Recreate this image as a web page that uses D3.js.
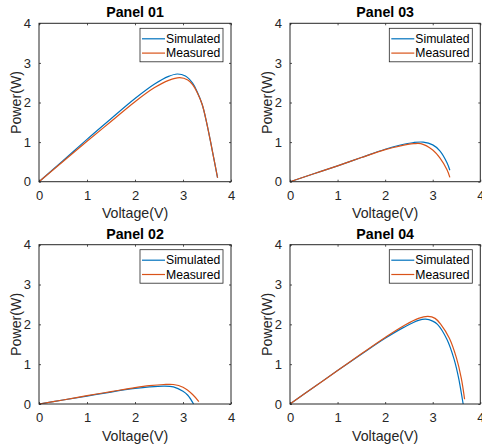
<!DOCTYPE html>
<html>
<head>
<meta charset="utf-8">
<script src="https://cdn.jsdelivr.net/npm/d3@7"></script>
<style>
  html, body { margin: 0; padding: 0; background: #fff; }
  svg { display: block; font-family: "Liberation Sans", Arial, sans-serif; }
</style>
</head>
<body>
<svg id="chart" width="482" height="448"></svg>
<script>
// tick values and series names
var xTicks = [0, 1, 2, 3, 4];
var yTicks = [0, 1, 2, 3, 4];
var seriesNames = ["Simulated", "Measured"];
var panelTitles = ["Panel 01", "Panel 03", "Panel 02", "Panel 04"];

// Panel 01
var p01SimV  = [0, 0.5, 1.0, 1.5, 2.0, 2.4, 2.7, 2.88, 3.05, 3.2, 3.3, 3.4, 3.5, 3.6, 3.72];
var p01SimP  = [0, 0.53, 1.07, 1.59, 2.10, 2.46, 2.66, 2.72, 2.67, 2.49, 2.26, 1.95, 1.45, 0.85, 0.1];
var p01MeasV = [0, 0.5, 1.0, 1.5, 2.0, 2.4, 2.7, 2.93, 3.1, 3.2, 3.3, 3.4, 3.5, 3.6, 3.72];
var p01MeasP = [0, 0.51, 1.02, 1.52, 2.02, 2.37, 2.56, 2.63, 2.57, 2.45, 2.24, 1.95, 1.45, 0.85, 0.1];

// Panel 03
var p03SimV  = [0, 0.5, 1.0, 1.5, 2.0, 2.3, 2.6, 2.8, 3.0, 3.15, 3.3, 3.36];
var p03SimP  = [0, 0.2, 0.40, 0.61, 0.82, 0.92, 0.99, 1.0, 0.93, 0.78, 0.48, 0.29];
var p03MeasV = [0, 0.5, 1.0, 1.5, 2.0, 2.3, 2.6, 2.75, 3.0, 3.15, 3.3, 3.36];
var p03MeasP = [0, 0.2, 0.40, 0.61, 0.81, 0.90, 0.96, 0.96, 0.80, 0.60, 0.30, 0.11];

// Panel 02
var p02SimV  = [0, 0.5, 1.0, 1.5, 2.0, 2.3, 2.6, 2.8, 3.0, 3.1, 3.22];
var p02SimP  = [0, 0.1, 0.2, 0.3, 0.39, 0.43, 0.45, 0.43, 0.32, 0.22, 0.0];
var p02MeasV = [0, 0.5, 1.0, 1.5, 2.0, 2.3, 2.6, 2.8, 3.0, 3.2, 3.33];
var p02MeasP = [0, 0.1, 0.21, 0.31, 0.41, 0.46, 0.49, 0.49, 0.42, 0.24, 0.06];

// Panel 04
var p04SimV  = [0, 0.5, 1.0, 1.5, 2.0, 2.4, 2.7, 2.85, 3.0, 3.1, 3.3, 3.45, 3.55, 3.64];
var p04SimP  = [0, 0.42, 0.84, 1.25, 1.65, 1.93, 2.10, 2.13, 2.08, 2.0, 1.62, 1.12, 0.62, 0.0];
var p04MeasV = [0, 0.5, 1.0, 1.5, 2.0, 2.4, 2.7, 2.9, 3.05, 3.17, 3.35, 3.5, 3.6, 3.67];
var p04MeasP = [0, 0.42, 0.84, 1.26, 1.67, 1.97, 2.15, 2.20, 2.15, 2.0, 1.65, 1.15, 0.65, 0.12];

var colors = ["#0072BD", "#D95319"];
var axisColor = "#262626";

var panels = [
    { title: panelTitles[0], sim: [p01SimV, p01SimP], meas: [p01MeasV, p01MeasP], box: { x0: 39,  x1: 231,   y0: 23.3,  y1: 181.7 } },
    { title: panelTitles[1], sim: [p03SimV, p03SimP], meas: [p03MeasV, p03MeasP], box: { x0: 290, x1: 480.3, y0: 23.3,  y1: 181.7 } },
    { title: panelTitles[2], sim: [p02SimV, p02SimP], meas: [p02MeasV, p02MeasP], box: { x0: 39,  x1: 231,   y0: 244.7, y1: 404 } },
    { title: panelTitles[3], sim: [p04SimV, p04SimP], meas: [p04MeasV, p04MeasP], box: { x0: 290, x1: 480.3, y0: 244.7, y1: 404 } }
];

var svg = d3.select("#chart");

function zip(pair) {
    return pair[0].map(function(v, i) { return [v, pair[1][i]]; });
}

function drawPanel(p) {
    var b = p.box;
    var x = d3.scaleLinear().domain([0, 4]).range([b.x0, b.x1]);
    var y = d3.scaleLinear().domain([0, 4]).range([b.y1, b.y0]);
    var g = svg.append("g");

    // data lines
    var line = d3.line()
        .x(function(d) { return x(d[0]); })
        .y(function(d) { return y(d[1]); })
        .curve(d3.curveCatmullRom.alpha(0.5));

    [p.sim, p.meas].forEach(function(s, i) {
        g.append("path")
            .attr("d", line(zip(s)))
            .attr("fill", "none")
            .attr("stroke", colors[i])
            .attr("stroke-width", 1.2);
    });

    // axes, ticks inside like matlab
    var tl = 2;
    var fmt = d3.format("d");
    var ax = d3.axisBottom(x).tickValues(xTicks).tickFormat(fmt).tickSizeInner(-tl).tickSizeOuter(0).tickPadding(9);
    var axT = d3.axisTop(x).tickValues(xTicks).tickSizeInner(-tl).tickSizeOuter(0).tickFormat("");
    var ay = d3.axisLeft(y).tickValues(yTicks).tickFormat(fmt).tickSizeInner(-tl).tickSizeOuter(0).tickPadding(8);
    var ayR = d3.axisRight(y).tickValues(yTicks).tickSizeInner(-tl).tickSizeOuter(0).tickFormat("");

    g.append("g").attr("transform", "translate(0," + b.y1 + ")").call(ax);
    g.append("g").attr("transform", "translate(0," + b.y0 + ")").call(axT);
    g.append("g").attr("transform", "translate(" + b.x0 + ",0)").call(ay);
    g.append("g").attr("transform", "translate(" + b.x1 + ",0)").call(ayR);

    g.selectAll(".domain").remove();
    g.selectAll(".tick line").attr("stroke", axisColor).attr("stroke-width", 0.8);
    g.selectAll(".tick text")
        .attr("fill", axisColor)
        .style("font-size", "13px")
        .style("font-family", "'Liberation Sans', Arial, sans-serif");

    g.append("rect")
        .attr("x", b.x0).attr("y", b.y0)
        .attr("width", b.x1 - b.x0).attr("height", b.y1 - b.y0)
        .attr("fill", "none")
        .attr("stroke", axisColor)
        .attr("stroke-width", 1);

    // title and labels
    var cx = (b.x0 + b.x1) / 2;
    g.append("text")
        .attr("x", cx).attr("y", b.y0 - 6)
        .attr("text-anchor", "middle")
        .attr("font-weight", "bold")
        .attr("font-size", 14.2)
        .attr("fill", "#000")
        .text(p.title);

    g.append("text")
        .attr("x", cx).attr("y", b.y1 + 36.5)
        .attr("text-anchor", "middle")
        .attr("font-size", 14.2)
        .attr("fill", axisColor)
        .text("Voltage(V)");

    g.append("text")
        .attr("transform", "translate(" + (b.x0 - 18.5) + "," + ((b.y0 + b.y1) / 2) + ") rotate(-90)")
        .attr("text-anchor", "middle")
        .attr("font-size", 14.2)
        .attr("fill", axisColor)
        .text("Power(W)");

    // legend
    var lw = 83, lh = 33.5;
    var lx = b.x1 - 8 - lw, ly = b.y0 + 5;
    var lg = g.append("g").attr("transform", "translate(" + lx + "," + ly + ")");
    lg.append("rect")
        .attr("width", lw).attr("height", lh)
        .attr("fill", "#fff")
        .attr("stroke", axisColor)
        .attr("stroke-width", 0.8);
    seriesNames.forEach(function(name, i) {
        var yy = 10.5 + i * 14.3;
        lg.append("line")
            .attr("x1", 2).attr("x2", 25)
            .attr("y1", yy).attr("y2", yy)
            .attr("stroke", colors[i])
            .attr("stroke-width", 1.2);
        lg.append("text")
            .attr("x", 26).attr("y", yy + 4.3)
            .attr("font-size", 12.2)
            .attr("fill", "#000")
            .text(name);
    });
}

panels.forEach(drawPanel);
</script>
</body>
</html>
